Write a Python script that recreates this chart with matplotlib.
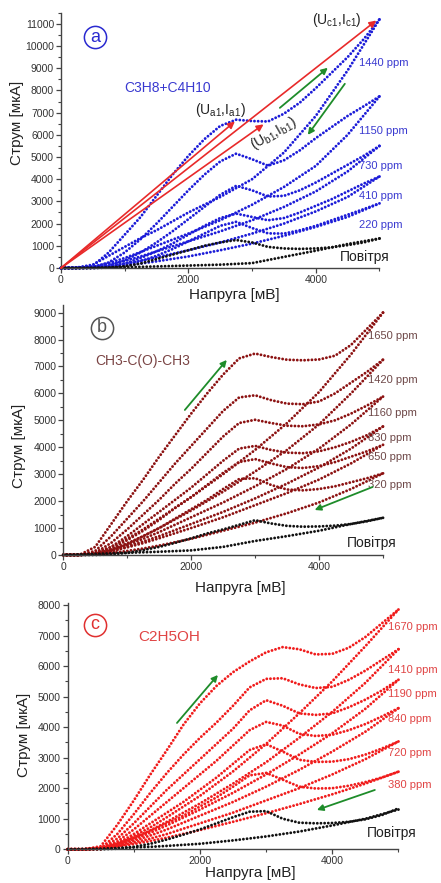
import matplotlib
matplotlib.use("Agg")
import matplotlib.pyplot as plt
from matplotlib.ticker import MultipleLocator

plt.rcParams['font.family'] = ['Liberation Sans', 'DejaVu Sans']
plt.rcParams['mathtext.default'] = 'regular'

# ------------------------------------------------------------------
# Voltage grids (mV): forward sweep and backward sweep
# ------------------------------------------------------------------
V_UP = [0, 250, 500, 750, 1000, 1250, 1500, 1750, 2000, 2250, 2500,
        2750, 3000, 3250, 3500, 3750, 4000, 4250, 4500, 4750, 5000]
V_DOWN = [5000, 4500, 4000, 3500, 3000, 2500, 2000, 1500, 1250, 1000, 750, 500, 250, 0]

# ---------------- panel a: C3H8+C4H10 (uA) ----------------
A_LABELS = ["1440 ppm", "1150 ppm", "730 ppm", "410 ppm", "220 ppm"]
A_UP_1440 = [0, 0, 100, 700, 1500, 2300, 3250, 4200, 5050, 5800, 6400,
             6680, 6620, 6600, 6950, 7450, 8100, 8800, 9500, 10300, 11200]
A_DN_1440 = [11200, 8900, 6850, 5200, 4000, 3200, 2500, 1700, 1350, 950, 550, 150, 20, 0]
A_UP_1150 = [0, 0, 30, 250, 700, 1300, 2000, 2750, 3500, 4200, 4800,
             5150, 4900, 4610, 4850, 5300, 5850, 6350, 6850, 7280, 7730]
A_DN_1150 = [7730, 6000, 4600, 3650, 2850, 2150, 1550, 1000, 720, 450, 220, 60, 10, 0]
A_UP_730 = [0, 0, 10, 100, 350, 700, 1150, 1650, 2200, 2750, 3300,
            3700, 3500, 3220, 3250, 3500, 3850, 4250, 4650, 5050, 5500]
A_DN_730 = [5500, 4350, 3450, 2750, 2150, 1650, 1200, 750, 520, 320, 150, 40, 5, 0]
A_UP_410 = [0, 0, 5, 50, 200, 450, 750, 1100, 1500, 1900, 2250,
            2450, 2300, 2150, 2250, 2500, 2800, 3100, 3450, 3800, 4120]
A_DN_410 = [4120, 3200, 2550, 2000, 1550, 1150, 800, 480, 330, 200, 90, 25, 5, 0]
A_UP_220 = [0, 0, 0, 30, 120, 300, 550, 850, 1200, 1550, 1900,
            2080, 1800, 1560, 1550, 1700, 1900, 2150, 2400, 2650, 2910]
A_DN_220 = [2910, 2300, 1850, 1450, 1100, 800, 520, 300, 200, 110, 50, 15, 0, 0]
A_UP_AIR = [0, 0, 0, 20, 80, 200, 400, 600, 800, 1000, 1150,
            1260, 1150, 950, 880, 860, 880, 930, 1030, 1150, 1330]
A_DN_AIR = [1330, 1080, 780, 500, 220, 150, 110, 70, 50, 35, 20, 10, 0, 0]
A_LABEL_Y = [9240, 6180, 4600, 3250, 1940]

# ---------------- panel b: CH3-C(O)-CH3 (uA) ----------------
B_LABELS = ["1650 ppm", "1420 ppm", "1160 ppm", "830 ppm", "650 ppm", "320 ppm"]
B_UP_1650 = [0, 0, 300, 1150, 2000, 2800, 3650, 4450, 5250, 6000, 6700,
             7300, 7480, 7350, 7250, 7230, 7260, 7400, 7800, 8400, 9000]
B_DN_1650 = [9000, 7450, 6050, 4900, 3900, 3000, 2150, 1350, 950, 600, 300, 80, 0, 0]
B_UP_1420 = [0, 0, 150, 700, 1350, 2000, 2700, 3400, 4050, 4700, 5350,
             5850, 5930, 5750, 5620, 5600, 5700, 6000, 6400, 6800, 7250]
B_DN_1420 = [7250, 6000, 4850, 3900, 3100, 2350, 1650, 1000, 700, 430, 200, 50, 0, 0]
B_UP_1160 = [0, 0, 80, 450, 950, 1500, 2050, 2650, 3200, 3800, 4400,
             4900, 5020, 4900, 4800, 4780, 4850, 5000, 5250, 5550, 5880]
B_DN_1160 = [5880, 4850, 3950, 3200, 2550, 1950, 1400, 850, 600, 370, 170, 40, 0, 0]
B_UP_830 = [0, 0, 50, 300, 700, 1150, 1600, 2050, 2500, 3000, 3500,
            3950, 4050, 3900, 3800, 3780, 3850, 4000, 4200, 4450, 4770]
B_DN_830 = [4770, 3950, 3250, 2650, 2100, 1600, 1150, 700, 500, 310, 150, 35, 0, 0]
B_UP_650 = [0, 0, 30, 220, 550, 900, 1300, 1750, 2150, 2600, 3050,
            3450, 3560, 3400, 3260, 3230, 3300, 3450, 3650, 3850, 4090]
B_DN_650 = [4090, 3400, 2800, 2300, 1850, 1400, 1000, 620, 440, 280, 130, 30, 0, 0]
B_UP_320 = [0, 0, 20, 150, 400, 700, 1000, 1350, 1700, 2050, 2450,
            2820, 2850, 2600, 2430, 2400, 2450, 2550, 2700, 2850, 3030]
B_DN_320 = [3030, 2450, 1950, 1550, 1200, 900, 600, 350, 240, 150, 70, 20, 0, 0]
B_UP_AIR = [0, 0, 0, 20, 80, 180, 300, 450, 620, 800, 950,
            1120, 1290, 1170, 1080, 1050, 1060, 1090, 1150, 1250, 1380]
B_DN_AIR = [1380, 1150, 900, 700, 520, 300, 170, 120, 100, 80, 60, 40, 20, 0]
B_LABEL_Y = [8134, 6500, 5285, 4357, 3652, 2600]

# ---------------- panel c: C2H5OH (uA) ----------------
C_LABELS = ["1670 ppm", "1410 ppm", "1190 ppm", "840 ppm", "720 ppm", "380 ppm"]
C_UP_1670 = [0, 0, 100, 800, 1600, 2450, 3250, 4080, 4780, 5350, 5800,
             6150, 6450, 6620, 6550, 6380, 6400, 6600, 6950, 7400, 7850]
C_DN_1670 = [7850, 6650, 5500, 4450, 3450, 2550, 1750, 1050, 720, 430, 200, 50, 0, 0]
C_UP_1410 = [0, 0, 30, 500, 1150, 1850, 2500, 3100, 3650, 4150, 4700,
             5300, 5580, 5600, 5400, 5280, 5320, 5550, 5850, 6200, 6550]
C_DN_1410 = [6550, 5450, 4500, 3650, 2850, 2150, 1500, 900, 620, 380, 180, 40, 0, 0]
C_UP_1190 = [0, 0, 20, 350, 850, 1400, 1950, 2450, 2950, 3450, 3950,
             4550, 4880, 4700, 4450, 4400, 4450, 4650, 4900, 5200, 5550]
C_DN_1190 = [5550, 4600, 3800, 3100, 2450, 1850, 1300, 780, 540, 330, 150, 35, 0, 0]
C_UP_840 = [0, 0, 15, 250, 650, 1100, 1550, 2000, 2450, 2900, 3400,
            3900, 4170, 4050, 3780, 3710, 3750, 3900, 4100, 4350, 4620]
C_DN_840 = [4620, 3850, 3200, 2600, 2050, 1550, 1100, 650, 450, 280, 130, 30, 0, 0]
C_UP_720 = [0, 0, 10, 180, 500, 850, 1200, 1550, 1950, 2350, 2800,
            3250, 3440, 3200, 2930, 2860, 2870, 2950, 3100, 3300, 3530]
C_DN_720 = [3530, 2950, 2450, 2000, 1600, 1200, 850, 500, 350, 220, 100, 25, 0, 0]
C_UP_380 = [0, 0, 5, 120, 350, 600, 850, 1100, 1400, 1700, 2050,
            2420, 2500, 2280, 2050, 1990, 2000, 2080, 2200, 2350, 2540]
C_DN_380 = [2540, 2150, 1800, 1480, 1180, 900, 630, 380, 270, 170, 80, 20, 0, 0]
C_UP_AIR = [0, 0, 0, 20, 80, 180, 320, 480, 650, 850, 1050,
            1230, 1250, 1000, 870, 850, 860, 900, 980, 1120, 1340]
C_DN_AIR = [1300, 1000, 780, 580, 420, 290, 180, 110, 80, 60, 40, 20, 10, 0]
C_LABEL_Y = [7270, 5872, 5086, 4257, 3164, 2106]

AIR = "Повітря"
XLAB = "Напруга [мВ]"
YLAB = "Струм [мкА]"

# ------------------------------------------------------------------
fig = plt.figure(figsize=(4.41, 8.83), dpi=100)
ax_a = fig.add_axes([0.1383, 0.6965, 0.7222, 0.2891])
ax_b = fig.add_axes([0.1435, 0.3715, 0.7250, 0.2836])
ax_c = fig.add_axes([0.1535, 0.0382, 0.7500, 0.2784])

DOTS = (0, (0.01, 1.25))
GREEN = '#1e8c2a'


def dotted(ax, x, y, color):
    ax.plot(x, y, color=color, lw=2.1, ls=DOTS, dash_capstyle='round', clip_on=False)


def style_axes(ax, ymax, ymajor=1000):
    ax.set_xlim(0, 5000)
    ax.set_ylim(0, ymax)
    for s in ['top', 'right']:
        ax.spines[s].set_visible(False)
    for s in ['left', 'bottom']:
        ax.spines[s].set_color('#444444')
        ax.spines[s].set_linewidth(1.0)
    ax.xaxis.set_major_locator(MultipleLocator(2000))
    ax.xaxis.set_minor_locator(MultipleLocator(1000))
    ax.yaxis.set_major_locator(MultipleLocator(ymajor))
    ax.yaxis.set_minor_locator(MultipleLocator(ymajor / 2))
    ax.tick_params(which='major', length=3.5, width=0.9, color='#444444',
                   labelsize=7.5, labelcolor='#333333', pad=1.5)
    ax.tick_params(which='minor', length=2, width=0.8, color='#444444')


def green_arrow(ax, start, end):
    ax.annotate('', xy=end, xytext=start,
                arrowprops=dict(arrowstyle='-|>', color=GREEN, lw=1.3,
                                mutation_scale=9, shrinkA=0, shrinkB=0))


def circled(ax, x, y, letter, color):
    ax.plot([x], [y], 'o', ms=16, mfc='none', mec=color, mew=1.1, clip_on=False)
    ax.text(x, y, letter, color=color, fontsize=13, ha='center', va='center')


def axis_labels(ax, xpos, ypos):
    ax.text(xpos[0], xpos[1], XLAB, transform=ax.transAxes, fontsize=11,
            ha='center', va='center', color='#222222')
    ax.text(ypos[0], ypos[1], YLAB, transform=ax.transAxes, fontsize=11,
            ha='center', va='center', rotation=90, color='#222222')


# ---------------- panel a ----------------
BLUE = '#1c1cd8'
BLUE_TXT = '#3a3ad0'
a_up = [A_UP_1440, A_UP_1150, A_UP_730, A_UP_410, A_UP_220]
a_dn = [A_DN_1440, A_DN_1150, A_DN_730, A_DN_410, A_DN_220]
for up, dn in zip(a_up, a_dn):
    dotted(ax_a, V_UP, up, BLUE)
    dotted(ax_a, V_DOWN, dn, BLUE)
dotted(ax_a, V_UP, A_UP_AIR, '#111111')
dotted(ax_a, V_DOWN, A_DN_AIR, '#111111')

RED = '#e82a2a'
for tip in [(4950, 11150), (2730, 6600), (3180, 6470)]:
    ax_a.annotate('', xy=tip, xytext=(0, 0),
                  arrowprops=dict(arrowstyle='-|>', color=RED, lw=1.2,
                                  mutation_scale=10, shrinkA=0, shrinkB=0))

ax_a.text(2100, 7120, r"(U$_{a1}$,I$_{a1}$)", fontsize=10, color='#222222', va='center')
ax_a.text(3340, 6040, r"(U$_{b1}$,I$_{b1}$)", fontsize=10, color='#222222',
          ha='center', va='center', rotation=30)
ax_a.text(4330, 11180, r"(U$_{c1}$,I$_{c1}$)", fontsize=10, color='#222222',
          ha='center', va='center')
ax_a.text(1000, 8100, "C3H8+C4H10", fontsize=10, color=BLUE_TXT, va='center')
for lab, ly in zip(A_LABELS, A_LABEL_Y):
    ax_a.text(4680, ly, lab, fontsize=8, color=BLUE_TXT, va='center')
ax_a.text(4380, 500, AIR, fontsize=10, color='#222222', va='center')
green_arrow(ax_a, (3436, 7214), (4189, 9018))
green_arrow(ax_a, (4456, 8297), (3875, 5997))
circled(ax_a, 535, 10400, 'a', '#2a2ad0')
style_axes(ax_a, 11500)
axis_labels(ax_a, (0.545, -0.106), (-0.138, 0.568))

# ---------------- panel b ----------------
DRED = '#8c1212'
B_TXT = '#6e4848'
b_up = [B_UP_1650, B_UP_1420, B_UP_1160, B_UP_830, B_UP_650, B_UP_320]
b_dn = [B_DN_1650, B_DN_1420, B_DN_1160, B_DN_830, B_DN_650, B_DN_320]
for up, dn in zip(b_up, b_dn):
    dotted(ax_b, V_UP, up, DRED)
    dotted(ax_b, V_DOWN, dn, DRED)
dotted(ax_b, V_UP, B_UP_AIR, '#111111')
dotted(ax_b, V_DOWN, B_DN_AIR, '#111111')
ax_b.text(500, 7216, "CH3-C(O)-CH3", fontsize=10, color='#7a4444', va='center')
for lab, ly in zip(B_LABELS, B_LABEL_Y):
    ax_b.text(4760, ly, lab, fontsize=8, color=B_TXT, va='center')
ax_b.text(4430, 446, AIR, fontsize=10, color='#222222', va='center')
green_arrow(ax_b, (1901, 5385), (2557, 7243))
green_arrow(ax_b, (4837, 2525), (3931, 1671))
circled(ax_b, 606, 8430, 'b', '#555555')
style_axes(ax_b, 9300)
axis_labels(ax_b, (0.554, -0.132), (-0.139, 0.434))

# ---------------- panel c ----------------
CRED = '#f01c1c'
C_TXT = '#e04444'
c_up = [C_UP_1670, C_UP_1410, C_UP_1190, C_UP_840, C_UP_720, C_UP_380]
c_dn = [C_DN_1670, C_DN_1410, C_DN_1190, C_DN_840, C_DN_720, C_DN_380]
for up, dn in zip(c_up, c_dn):
    dotted(ax_c, V_UP, up, CRED)
    dotted(ax_c, V_DOWN, dn, CRED)
dotted(ax_c, V_UP, C_UP_AIR, '#111111')
dotted(ax_c, V_DOWN, C_DN_AIR, '#111111')
ax_c.text(1064, 6963, "C2H5OH", fontsize=11, color=C_TXT, va='center')
for lab, ly in zip(C_LABELS, C_LABEL_Y):
    ax_c.text(4845, ly, lab, fontsize=8, color=C_TXT, va='center')
ax_c.text(4518, 545, AIR, fontsize=10, color='#222222', va='center')
green_arrow(ax_c, (1652, 4136), (2271, 5708))
green_arrow(ax_c, (4643, 1942), (3767, 1287))
circled(ax_c, 413, 7346, 'c', '#e03030')
style_axes(ax_c, 8050)
axis_labels(ax_c, (0.552, -0.097), (-0.132, 0.466))

fig.savefig("out.png", dpi=100)
